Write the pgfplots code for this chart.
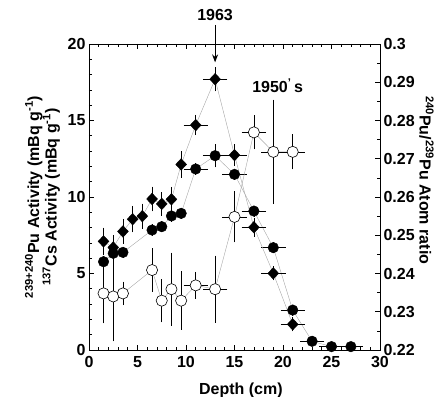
\documentclass[border=0pt]{standalone}
\usepackage{pgfplots}
\pgfplotsset{compat=1.18}
\usepackage{pgfplotstable}
\usepackage{fontspec}
\setmainfont{Liberation Sans}
\usetikzlibrary{arrows.meta}
\newcommand{\tf}{\bfseries\fontsize{16bp}{17.5bp}\selectfont}

% diamonds
\pgfplotstableread{
x y ex ey
1.5 7.10 0 0.73
2.5 6.70 0 0.65
3.5 7.75 0 0.65
4.5 8.55 0 0.70
5.5 8.75 0 0.65
6.5 9.87 0 0.65
7.5 9.55 0 0.60
8.5 9.85 0 0.65
9.5 12.13 0 0.70
11 14.70 1 0.50
13 17.70 1 0.63
15 12.74 1 0.55
17 8.02 1 0.45
19 5.01 1 0.30
21 1.68 1 0.30
}\diamonddata

% filled circles
\pgfplotstableread{
x y ex ey
1.5 5.77 0 0.2
2.5 6.32 0 0.2
3.5 6.38 0 0.2
6.5 7.84 0 0.2
7.5 8.06 0 0.2
8.5 8.76 0 0.2
9.5 8.93 0 0.2
11 11.83 1 0.2
13 12.70 1 0.6
15 11.48 1 0.2
17 9.08 1 0.2
19 6.69 1 0.2
21 2.61 1 0.2
23 0.57 1 0.1
25 0.22 1 0.1
27 0.22 1 0.1
}\circledata

% open circles: 240Pu/239Pu ratio
\pgfplotstableread{
x y ex ey
1.5 0.2348 0 0.0072
2.5 0.2340 0 0.0111
3.5 0.2348 0 0.0024
6.5 0.2409 0 0.0050
7.5 0.2329 0 0.0050
8.5 0.2359 0 0.0089
9.5 0.2329 0 0.0070
11 0.2369 1 0.0029
13 0.2359 1 0.0081
15 0.2548 1 0.0060
17 0.2769 1 0.0038
19 0.2718 1 0.0130
21 0.2718 1 0.0039
}\ratiodata

\begin{document}
\begin{tikzpicture}
\pgfplotsset{
  common/.style={
    at={(0,0)}, anchor=south west,
    scale only axis, width=291bp, height=306bp,
    xmin=0, xmax=30,
    axis line style={line width=0.9pt},
    every tick/.style={black, line width=0.7pt},
    major tick length=5bp, minor tick length=3bp,
    tick align=inside,
    tick label style={font=\tf},
    /pgf/number format/assume math mode=true,
    clip=false,
  },
  conn/.style={gray!70, line width=0.4pt},
  ebars/.style={
    /pgfplots/error bars/x dir=both, /pgfplots/error bars/x explicit,
    /pgfplots/error bars/y dir=both, /pgfplots/error bars/y explicit,
    /pgfplots/error bars/error bar style={black, line width=0.6pt},
    /pgfplots/error bars/error mark options={black, line width=0.6pt, mark size=2.5bp},
  },
}
\begin{axis}[common,
  ymin=0, ymax=20, ytick={0,5,10,15,20}, minor y tick num=4,
  xtick={0,5,10,15,20,25,30}, minor x tick num=4,
  xticklabel style={yshift=-2.5bp},
  ytick pos=left,
  xlabel={Depth (cm)},
  xlabel style={font=\tf, at={(axis description cs:0.522,-0.131)}, anchor=center},
  ylabel={\textsuperscript{239+240}Pu Activity (mBq g\textsuperscript{-1})\\\textsuperscript{137}Cs Activity (mBq g\textsuperscript{-1})},
  ylabel style={font=\tf, align=center, at={(axis description cs:-0.16,0.5)}, anchor=center},
]
\addplot[conn, mark=*, mark size=5.3bp, mark options={fill=black, draw=black, line width=0.4pt}, ebars]
  table[x=x, y=y, x error=ex, y error=ey] {\circledata};
\addplot[conn, mark=diamond*, mark size=5.8bp, mark options={fill=black, draw=black, line width=0.4pt, xscale=1.25}, ebars]
  table[x=x, y=y, x error=ex, y error=ey] {\diamonddata};
\node[font=\tf] at (axis cs:13,21.9) {1963};
\draw[-{Stealth[length=8bp,width=6bp]}, line width=1pt] (axis cs:13,21.25) -- (axis cs:13,18.8);
\node[font=\tf] at (axis cs:19.45,17.25) {1950\textsuperscript{’}\,s};
\end{axis}
\begin{axis}[common,
  ymin=0.22, ymax=0.30,
  ytick={0.22,0.23,0.24,0.25,0.26,0.27,0.28,0.29,0.30},
  yticklabels={0.22,0.23,0.24,0.25,0.26,0.27,0.28,0.29,0.3},
  minor y tick num=1,
  ytick pos=right, xtick=\empty,
  ylabel={\textsuperscript{240}Pu/\textsuperscript{239}Pu Atom ratio},
  ylabel style={font=\tf, rotate=180, at={(axis description cs:1.16,0.555)}, anchor=center},
]
\addplot[conn, mark=*, mark size=5.6bp, mark options={fill=white, draw=black, line width=0.6pt}, ebars]
  table[x=x, y=y, x error=ex, y error=ey] {\ratiodata};
\end{axis}
\pgfresetboundingbox
\path[use as bounding box] (-89bp,-47bp) rectangle (355bp,350bp);
\end{tikzpicture}
\end{document}
